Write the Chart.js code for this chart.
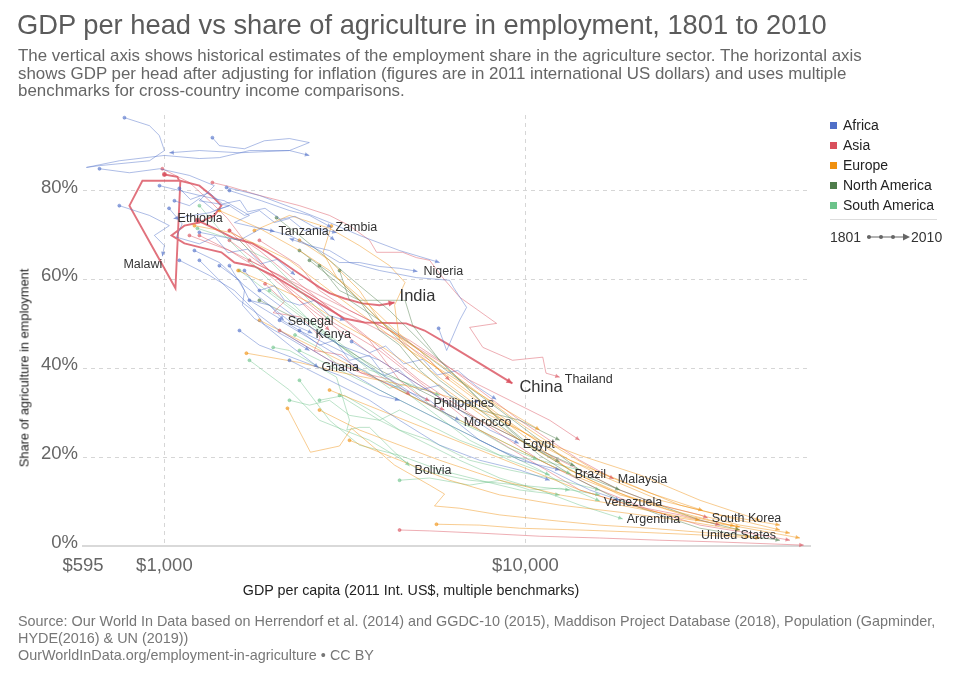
<!DOCTYPE html>
<html><head><meta charset="utf-8">
<script src="https://cdn.jsdelivr.net/npm/chart.js@4.4.1/dist/chart.umd.min.js"></script>
<style>
html,body{margin:0;padding:0;background:#fff;}
#wrap{position:relative;width:960px;height:678px;overflow:hidden;font-family:"Liberation Sans",Arial,sans-serif;}
#c{position:absolute;left:0;top:0;}
.t{position:absolute;white-space:nowrap;}
#title{left:17px;top:9px;font-size:27.3px;color:#5b5b5b;}
#sub{left:18px;top:47px;font-size:16.9px;color:#666;line-height:17.5px;}
#ytitle{left:24px;top:368px;font-size:12.8px;color:#222;transform:translate(-50%,-50%) rotate(-90deg);transform-origin:center;}
#xtitle{left:411px;top:590px;font-size:14.3px;color:#222;transform:translate(-50%,-50%);}
#foot{left:18px;top:613px;font-size:14.4px;color:#777;line-height:17px;}
.lg{position:absolute;left:830px;font-size:14px;color:#222;white-space:nowrap;}
.lg i{display:inline-block;width:7px;height:7px;margin-right:6px;vertical-align:1px;}
#sep{position:absolute;left:830px;top:219px;width:107px;height:1px;background:#ddd;}
#tl{position:absolute;left:830px;top:229px;font-size:14px;color:#333;white-space:nowrap;}
</style></head>
<body><div id="wrap">
<canvas id="c" width="960" height="678"></canvas>
<div class="t" id="title">GDP per head vs share of agriculture in employment, 1801 to 2010</div>
<div class="t" id="sub">The vertical axis shows historical estimates of the employment share in the agriculture sector. The horizontal axis<br>shows GDP per head after adjusting for inflation (figures are in 2011 international US dollars) and uses multiple<br>benchmarks for cross-country income comparisons.</div>
<div class="t" id="ytitle">Share of agriculture in employment</div>
<div class="t" id="xtitle">GDP per capita (2011 Int. US$, multiple benchmarks)</div>
<div class="t" id="foot">Source: Our World In Data based on Herrendorf et al. (2014) and GGDC-10 (2015), Maddison Project Database (2018), Population (Gapminder,<br>HYDE(2016) &amp; UN (2019))<br>OurWorldInData.org/employment-in-agriculture • CC BY</div>
<div id="legend"></div>
<div id="sep"></div>
<div id="tl">1801 <svg width="46" height="10" style="vertical-align:0px"><line x1="2" y1="5" x2="40" y2="5" stroke="#666" stroke-width="1"/><circle cx="4" cy="5" r="2" fill="#666"/><circle cx="16" cy="5" r="2" fill="#666"/><circle cx="28" cy="5" r="2" fill="#666"/><polygon points="38,1.5 45,5 38,8.5" fill="#666"/></svg>2010</div>
</div>
<script>
// ---------- DATA: [GDP per capita (2011 int. $), agriculture share of employment (%)] ----------
const REGIONS = ['Africa','Asia','Europe','North America','South America'];
const X_TICKS = [595, 1000, 10000];
const Y_TICKS = [0, 20, 40, 60, 80];

// Africa
const AF1 = [[775,96.4],[909,94.6],[968,92.4],[1000,89.0],[909,86.7],[661,85.6],[608,85.2],[750,86.7],[1000,87.9],[1250,87.2],[1420,87.4],[1720,89.0],[2220,89.0],[2520,87.9]];
const AF2 = [[1358,91.9],[1420,90.1],[1666,89.4],[1892,91.2],[2220,91.7],[2520,90.8],[2220,89.0],[1614,88.5],[1250,89.0],[1032,88.5]];
const ETHIOPIA = [[661,84.9],[800,84.0],[969,84.9],[1173,83.4],[1375,81.1],[1250,77.7],[1514,76.6],[1332,75.0],[1060,73.7]];
const TANZANIA = [[969,81.1],[1250,78.9],[1466,77.7],[1720,74.4],[1563,72.8],[1833,71.5],[2019,70.8]];
const ZAMBIA = [[1514,80.0],[1857,77.7],[2220,75.5],[2522,74.4],[2903,71.7]];
const NIGERIA = [[1250,70.6],[1614,68.8],[1857,71.5],[2220,69.9],[2688,66.5],[3055,63.8],[3470,63.8],[3943,62.9],[4480,62.5],[5025,61.8]];
const MALAWI = [[750,76.6],[909,74.4],[1032,72.1],[938,69.9],[1000,67.6],[987,65.2]];
const SENEGAL = [[1420,63.1],[1614,59.8],[1720,55.3],[1954,54.2],[2141,50.8]];
const KENYA = [[1211,66.5],[1420,63.8],[1666,58.6],[1954,54.2],[2292,49.7],[2570,47.9]];
const GHANA = [[1100,64.3],[1332,60.9],[1563,57.5],[1775,53.0],[1892,49.7],[2220,45.2],[2670,40.2]];
const EGYPT = [[1833,57.5],[2366,50.8],[3055,45.2],[3943,41.8],[5090,36.2],[6572,30.6],[7960,26.1],[9585,23.1]];
const MOROCCO = [[1720,55.3],[2366,48.5],[3256,42.9],[4480,36.2],[5426,31.7],[6572,28.3]];
const AF13 = [[2084,50.8],[2866,44.0],[3943,37.3],[5426,32.8],[7467,23.8],[9640,19.3],[12446,17.1]];
const AF14 = [[5748,49.0],[6050,44.0],[6572,50.8],[6870,53.7],[6320,58.2],[6165,59.8],[4990,60.4],[3943,62.0],[3256,63.8],[2866,66.5],[2522,67.6],[2220,69.2]];
const AF15 = [[2220,41.8],[2866,37.3],[3700,32.8],[4480,28.3],[5784,22.7],[7467,19.3],[9640,17.1],[11676,14.8]];
const AF16 = [[1614,48.5],[1833,45.2],[2366,41.8],[3055,38.4],[3943,33.9],[4480,32.8]];
const AF17 = [[1250,64.3],[1614,55.3],[2084,48.5],[2866,41.8],[3943,35.1],[5784,28.3],[8485,21.6],[11676,17.1],[15073,12.6],[18255,10.3]];
const AF18 = [[1486,80.7],[1833,78.9],[2366,75.5],[2866,72.8],[3470,69.9],[4480,66.5],[5784,63.8]];
const AF19 = [[1514,63.1],[1666,57.5],[1645,54.2],[1775,51.2],[2019,48.5],[2220,46.7],[2522,44.0]];
const AF20 = [[1100,80.5],[1180,78.0],[1330,79.5],[1450,77.0],[1620,77.8],[1700,75.2],[1900,76.0],[2100,73.5],[2300,74.2],[2600,71.8],[3000,70.5]];
const AF21 = [[1030,76.0],[1120,72.5],[1080,69.5],[1250,68.0],[1380,69.6],[1500,66.0],[1700,66.8],[1850,63.5],[2050,64.5],[2300,61.0]];
const AF22 = [[3300,46.0],[3700,43.5],[4100,45.0],[4600,41.0],[5200,42.0],[5700,38.5],[6500,39.5],[7300,36.0],[8300,33.0]];
const AF23 = [[1066,77.7],[1173,76.6],[1250,78.2],[1375,75.5],[1514,76.6],[1666,74.4],[1833,75.5],[2019,72.8],[2220,73.7],[2444,71.0],[2688,71.5],[2960,68.8]];
const AF24 = [[2366,48.5],[2688,45.2],[2960,46.3],[3256,41.8],[3700,42.9],[4070,38.4],[4480,39.6],[5090,35.1],[5784,36.2],[6572,31.7],[7467,32.8]];
const AF25 = [[1666,62.0],[1833,57.5],[2019,58.6],[2150,55.3],[2366,54.2],[2605,55.3],[2866,51.9],[3155,50.8]];

// Asia
const CHINA = [[1000,83.6],[1086,83.1],[1100,82.2],[869,82.2],[800,76.6],[1073,58.0],[1107,82.2],[1250,81.1],[1349,78.9],[1438,76.6],[1375,74.4],[1250,72.8],[1136,72.1],[1046,69.9],[1136,68.1],[1290,67.0],[1438,66.1],[1563,63.8],[1775,62.9],[2019,60.7],[2292,58.0],[2688,54.6],[3155,51.2],[3584,50.3],[4670,50.1],[5255,48.5],[6050,45.6],[7467,41.1],[9205,36.6]];
const INDIA = [[1234,73.3],[1375,71.5],[1563,69.2],[1753,68.1],[1930,66.1],[2084,64.3],[2292,62.0],[2474,60.2],[2688,58.2],[2866,56.9],[3155,55.7],[3531,54.6],[3943,54.2],[4340,54.8]];
const THAILAND = [[1358,81.8],[1514,80.9],[1833,78.9],[2366,76.6],[2866,74.4],[3256,72.1],[3700,68.8],[3870,66.1],[4570,66.1],[4990,64.9],[5426,64.3],[5900,60.4],[6572,56.0],[8320,50.1],[7005,49.2],[7620,44.7],[9205,41.8],[11170,42.5],[11400,38.9],[12446,38.0]];
const PHILIPPINES = [[1514,71.0],[1833,66.5],[2220,60.9],[2688,55.3],[3155,50.8],[3700,46.3],[4480,37.3],[4925,34.6],[5426,32.6]];
const MALAYSIA = [[1720,64.3],[2220,59.8],[2866,55.3],[3700,50.8],[4776,46.3],[5784,41.8],[7467,35.1],[9640,28.3],[11676,23.8],[14141,19.3],[17570,15.1]];
const SOUTH_KOREA = [[1173,69.9],[1514,66.5],[1954,60.9],[2366,55.3],[3055,48.5],[3943,41.8],[5090,36.2],[6572,30.6],[8485,26.1],[10954,21.6],[14141,17.1],[18255,12.6],[23567,9.2],[30424,7.0],[32000,6.3]];
const AS7 = [[1514,68.8],[1954,62.0],[2688,55.3],[3470,48.5],[5090,37.3],[7467,28.3],[10954,19.3],[16067,12.6],[22109,8.1],[30424,4.7],[44626,2.5],[54048,1.3]];
const AS8 = [[1833,68.8],[2366,63.1],[2688,57.5],[3256,53.0],[4203,48.5],[5426,42.9],[7005,37.3],[9044,32.8],[11676,28.3],[14141,23.8]];
const AS9 = [[1250,69.9],[1614,65.4],[2084,60.9],[2688,55.3],[3470,50.8],[4480,46.3],[5426,41.8],[6165,37.3]];
const AS10 = [[4480,3.6],[5426,3.4],[7467,2.9],[10954,2.2],[16067,1.8],[23567,1.3],[34568,0.9],[59000,0.2]];
const AS11 = [[2084,48.5],[2866,41.8],[3943,37.3],[5090,32.8],[5970,30.6]];
const AS12 = [[1514,71.0],[2084,59.8],[2866,50.8],[3943,44.0],[5426,35.1],[7467,26.1],[10276,19.3],[14141,12.6],[19459,9.2],[26776,7.0],[34568,4.7]];
const AS14 = [[987,84.9],[1173,81.8],[1358,77.1],[1496,73.7],[1687,68.1],[1892,63.1],[2220,57.5],[2522,53.0],[2866,48.5]];
const AS15 = [[1900,59.0],[2150,55.0],[2000,52.5],[2400,51.5],[2700,47.0],[2600,44.0],[3100,43.0],[3500,39.0],[4200,37.5],[4800,34.0]];

// Europe
const EU1 = [[1775,71.0],[2220,74.4],[2866,71.5],[3470,67.6],[4203,63.1],[4640,59.3],[4340,54.2],[4480,46.3],[5426,39.6],[7005,32.8],[9640,26.1],[13266,19.3],[18255,14.8],[26776,9.2],[39276,5.8],[50705,3.6]];
const EU2 = [[1687,43.4],[2366,41.3],[3055,39.1],[3943,37.3],[5090,35.5],[6572,32.8],[8485,28.3],[10954,23.8],[14141,20.4],[20742,16.0],[30424,10.3],[44626,5.8]];
const EU3 = [[2192,31.0],[2538,21.1],[3055,22.5],[3298,26.5],[4340,18.2],[5426,13.7],[5970,11.7],[5600,9.0],[6572,8.5],[8485,7.0],[11676,5.8],[16067,4.7],[22109,4.0],[30424,3.1],[41866,2.2]];
const EU4 = [[1420,75.5],[1833,71.5],[2366,66.5],[2866,62.0],[3470,55.3],[4203,48.5],[5090,44.0],[6165,37.3],[7960,30.6],[10276,23.8],[13266,17.1],[18255,11.5],[26776,8.1],[39276,4.7],[54048,2.9]];
const EU5 = [[2366,68.8],[2866,64.3],[3470,57.5],[3943,50.8],[5090,42.9],[6572,36.2],[8485,29.4],[11676,21.6],[16067,16.0],[23567,10.3],[34568,7.0],[50705,4.7]];
const EU6 = [[2866,35.1],[3943,30.6],[5426,26.1],[7467,21.6],[10276,17.1],[14141,12.6],[19459,9.2],[26776,6.3],[39276,4.3]];
const EU7 = [[5670,4.9],[7467,4.7],[9640,4.0],[14141,3.6],[20742,3.1],[30424,2.5],[44626,1.8]];
const EU8 = [[1833,50.8],[2522,45.2],[3470,39.6],[4776,33.9],[6572,28.3],[9044,22.7],[12446,17.1],[17126,12.6],[25121,8.1],[36847,4.7],[57612,1.8]];
const EU9 = [[3256,23.8],[4480,19.3],[6165,14.8],[8485,11.5],[12446,9.2],[18255,7.6],[26776,5.8],[39276,3.6]];
const EU10 = [[1211,72.1],[1514,70.6],[1833,67.6],[2220,64.3],[2866,57.5],[3700,50.8],[4776,44.0],[6165,38.4],[7960,32.8],[10954,26.1]];
const EU12 = [[2688,30.6],[3470,26.1],[4480,22.7],[5784,19.3],[8485,14.8],[12446,11.5],[18255,9.2],[30424,5.8]];
const EU13 = [[1600,62.0],[2000,58.5],[2500,55.0],[3100,50.0],[3900,45.5],[4900,40.0],[6200,34.5],[8000,28.0],[10500,22.0],[14500,15.5],[20000,10.5],[28000,6.8],[38000,4.5]];
const EU14 = [[2900,72.0],[2750,66.0],[3000,60.5],[3600,55.0],[4300,49.0],[5000,44.5],[6000,40.0],[7400,34.5],[9500,28.0],[12000,22.5],[16000,16.5],[22000,12.0],[31000,8.0]];

// North America
const UNITED_STATES = [[2045,73.9],[2366,69.9],[2866,64.3],[3470,58.6],[4203,53.0],[5090,46.3],[6165,39.6],[7467,32.8],[9044,26.1],[10954,20.4],[14141,14.8],[18255,10.3],[23567,7.0],[30424,4.0],[39276,2.5],[50705,1.3]];
const NA2 = [[2366,66.5],[3055,59.8],[3943,50.8],[5090,44.0],[6572,37.3],[8485,30.6],[10954,23.8],[14141,17.1],[18255,12.6],[23567,9.2],[30424,5.8],[39276,3.6]];
const NA3 = [[1833,55.3],[2366,50.8],[3055,45.2],[3943,39.6],[5090,35.1],[6572,30.6],[8485,26.1],[10954,21.6],[13700,18.0]];
const NA4 = [[3055,62.0],[3256,55.3],[3943,50.8],[4480,46.3],[5090,41.8],[5784,37.3],[7467,30.6],[9640,23.8],[12446,18.9]];
const NA5 = [[2522,64.3],[3470,55.3],[4640,55.3],[4870,49.7],[5784,41.8],[7005,35.1],[8485,28.3],[10276,22.7],[13266,17.1],[18255,12.6]];
const NA6 = [[2688,63.1],[3055,57.5],[3470,55.3],[3943,48.5],[4480,45.2],[5090,39.6],[6165,33.9],[7467,30.6],[9640,28.3],[12446,23.8]];

// South America
const BOLIVIA = [[2001,44.7],[2220,44.0],[2997,38.0],[3256,28.3],[3200,26.1],[3470,26.7],[3700,26.7],[4280,21.6],[4776,18.0]];
const BRAZIL = [[1614,62.0],[2084,55.3],[2688,48.5],[3470,41.8],[4480,35.1],[5784,30.6],[7467,26.1],[9640,21.6],[11676,18.2],[13350,16.2]];
const VENEZUELA = [[2366,44.0],[3055,39.6],[3943,35.1],[5090,30.6],[6572,26.1],[8485,21.6],[10954,17.1],[13266,13.0],[16067,10.1]];
const ARGENTINA = [[3055,33.9],[3943,28.3],[5090,23.8],[6572,19.3],[8485,15.3],[10954,12.6],[14141,9.2],[18600,6.1]];
const SA5 = [[2366,37.3],[2866,28.3],[3470,22.7],[4480,20.4],[5784,17.1],[7467,14.8],[9640,12.6],[12446,11.5]];
const SA6 = [[1720,41.8],[2220,35.1],[2688,28.3],[3700,23.8],[5090,17.1],[7005,14.8],[9640,13.7],[13266,12.6]];
const SA7 = [[1250,76.6],[1466,69.9],[1720,64.3],[2084,57.5],[2522,50.8],[3055,45.2],[3700,39.6],[4480,37.3],[5784,33.9]];
const SA8 = [[1954,57.5],[2522,50.8],[3256,44.0],[4203,37.3],[5426,30.6],[7005,23.8],[9044,19.3],[11676,16.0]];
const SA9 = [[1234,71.5],[1420,69.9],[1614,68.8],[1720,66.5],[1954,64.3],[2366,57.5],[2866,50.8]];
const SA10 = [[2688,32.8],[3155,33.9],[3700,30.6],[4480,26.1],[5426,23.8],[7005,19.3],[9044,17.1],[12446,14.8],[16067,12.6]];
const SA11 = [[2300,47.5],[2700,44.5],[3000,41.0],[3600,39.5],[4200,35.5],[4700,36.5],[5400,32.0],[6300,28.5],[7600,25.5],[9000,22.0],[10800,19.5]];
const SA12 = [[2220,32.8],[2522,31.7],[2866,32.8],[3256,29.4],[3943,28.3],[4480,30.6],[5426,27.2],[6572,23.8],[8485,20.4],[10954,19.3],[14141,17.1]];
const SA13 = [[4480,14.8],[5426,15.3],[7005,13.7],[8485,14.8],[10276,12.6],[12446,13.0],[16067,11.5]];

// series list: [region, data, label]
const SERIES = [
  ['Africa',AF1,null],['Africa',AF2,null],['Africa',ETHIOPIA,'Ethiopia'],['Africa',TANZANIA,'Tanzania'],
  ['Africa',ZAMBIA,'Zambia'],['Africa',NIGERIA,'Nigeria'],['Africa',MALAWI,'Malawi'],['Africa',SENEGAL,'Senegal'],
  ['Africa',KENYA,'Kenya'],['Africa',GHANA,'Ghana'],['Africa',EGYPT,'Egypt'],['Africa',MOROCCO,'Morocco'],
  ['Africa',AF13,null],['Africa',AF14,null],['Africa',AF15,null],['Africa',AF16,null],['Africa',AF17,null],
  ['Africa',AF18,null],['Africa',AF19,null],['Africa',AF20,null],['Africa',AF21,null],['Africa',AF22,null],
  ['Africa',AF23,null],['Africa',AF24,null],['Africa',AF25,null],
  ['Europe',EU1,null],['Europe',EU2,null],['Europe',EU3,null],['Europe',EU4,null],['Europe',EU5,null],
  ['Europe',EU6,null],['Europe',EU7,null],['Europe',EU8,null],['Europe',EU9,null],['Europe',EU10,null],
  ['Europe',EU12,null],['Europe',EU13,null],['Europe',EU14,null],
  ['North America',UNITED_STATES,'United States'],['North America',NA2,null],['North America',NA3,null],
  ['North America',NA4,null],['North America',NA5,null],['North America',NA6,null],
  ['South America',BOLIVIA,'Bolivia'],['South America',BRAZIL,'Brazil'],['South America',VENEZUELA,'Venezuela'],
  ['South America',ARGENTINA,'Argentina'],['South America',SA5,null],['South America',SA6,null],
  ['South America',SA7,null],['South America',SA8,null],['South America',SA9,null],['South America',SA10,null],
  ['South America',SA11,null],['South America',SA12,null],['South America',SA13,null],
  ['Asia',THAILAND,'Thailand'],['Asia',PHILIPPINES,'Philippines'],['Asia',MALAYSIA,'Malaysia'],
  ['Asia',SOUTH_KOREA,'South Korea'],['Asia',AS7,null],['Asia',AS8,null],['Asia',AS9,null],['Asia',AS10,null],
  ['Asia',AS11,null],['Asia',AS12,null],['Asia',AS14,null],['Asia',AS15,null],
  ['Asia',INDIA,'India'],['Asia',CHINA,'China']
];

// ---------- STYLE ----------
const COLORS = {'Africa':'79,111,200','Asia':'217,79,92','Europe':'240,144,15','North America':'78,124,75','South America':'108,195,138'};
const HIGHLIGHT = ['India','China'];
const LABEL_STYLE = {
  'Ethiopia':{dx:4,dy:0},'Tanzania':{dx:4,dy:0},'Zambia':{dx:4,dy:0},'Malawi':{dx:0,dy:8,align:'right'},
  'Nigeria':{dx:6,dy:0},'India':{dx:5,dy:-6,big:true},'Senegal':{dx:4,dy:1},'Kenya':{dx:3,dy:1},
  'Ghana':{dx:3,dy:0},'China':{dx:7,dy:4,big:true},'Thailand':{dx:5,dy:2},'Philippines':{dx:4,dy:2},
  'Morocco':{dx:4,dy:2},'Egypt':{dx:4,dy:1},'Bolivia':{dx:5,dy:5},'Brazil':{dx:4,dy:1},'Malaysia':{dx:4,dy:1},
  'Venezuela':{dx:4,dy:1},'Argentina':{dx:4,dy:1},'South Korea':{dx:4,dy:1},'United States':{dx:-4,dy:-5,align:'right'}
};
const FONT = '"Liberation Sans", Arial, sans-serif';

// legend
const lg = document.getElementById('legend');
REGIONS.forEach((r,i)=>{
  const d = document.createElement('div'); d.className='lg'; d.style.top=(117+i*20)+'px';
  d.innerHTML = '<i style="background:rgb('+COLORS[r]+')"></i>'+r; lg.appendChild(d);
});

const datasets = SERIES.map(([reg,arr,label])=>{
  const hi = HIGHLIGHT.includes(label);
  const col = 'rgba('+COLORS[reg]+','+(hi?0.8:0.58)+')';
  return {
    label: label||'', region: reg, country: label,
    data: arr.map(p=>({x:p[0],y:p[1]})),
    showLine:true, borderColor:col, backgroundColor:col, borderWidth: hi?1.9:0.8,
    pointRadius: c=>c.dataIndex===0?1.5:0, pointHoverRadius:0, tension:0
  };
});

const arrowPlugin = {
  id:'arrows',
  afterDatasetsDraw(chart){
    const ctx = chart.ctx;
    chart.data.datasets.forEach((ds,i)=>{
      const pts = chart.getDatasetMeta(i).data; if(pts.length<2) return;
      const a = pts[pts.length-2], b = pts[pts.length-1];
      const ang = Math.atan2(b.y-a.y,b.x-a.x);
      const hi = ds.borderWidth>1.5, L = hi?6:4.5, W = hi?3:2.2;
      ctx.save(); ctx.fillStyle = ds.borderColor; ctx.translate(b.x,b.y); ctx.rotate(ang);
      ctx.beginPath(); ctx.moveTo(0,0); ctx.lineTo(-L,-W); ctx.lineTo(-L,W); ctx.closePath(); ctx.fill(); ctx.restore();
    });
  }
};
const labelPlugin = {
  id:'countryLabels',
  afterDatasetsDraw(chart){
    const ctx = chart.ctx;
    chart.data.datasets.forEach((ds,i)=>{
      if(!ds.country) return;
      const st = LABEL_STYLE[ds.country]||{dx:4,dy:0};
      const pts = chart.getDatasetMeta(i).data; const p = pts[pts.length-1];
      ctx.save();
      ctx.font = (st.big?'16.5px ':'12.5px ')+FONT;
      ctx.fillStyle = '#333'; ctx.textBaseline='middle'; ctx.textAlign = st.align||'left';
      ctx.fillText(ds.country, p.x+st.dx, p.y+st.dy);
      ctx.restore();
    });
  }
};

new Chart(document.getElementById('c'), {
  type:'scatter',
  data:{datasets},
  options:{
    responsive:false, animation:false, devicePixelRatio:1,
    layout:{padding:{left:0,top:115,right:150,bottom:0}},
    plugins:{legend:{display:false},title:{display:false},tooltip:{enabled:false}},
    events:[],
    scales:{
      x:{type:'logarithmic', min:595, max:61400,
        afterBuildTicks:s=>{s.ticks = X_TICKS.map(v=>({value:v}));},
        afterFit:s=>{s.height = 132;},
        ticks:{autoSkip:false,maxRotation:0,padding:9,color:'#666',font:{size:18.5,family:FONT},
          callback:v=>'$'+Number(v).toLocaleString('en-US')},
        grid:{color:c=>c.tick&&c.tick.value===595?'rgba(0,0,0,0)':'#d6d6d6', lineWidth:1, drawTicks:false},
        border:{display:true,color:'#d9d9d9',width:2,dash:[4,4]}
      },
      y:{type:'linear', min:0, max:97,
        afterBuildTicks:s=>{s.ticks = Y_TICKS.map(v=>({value:v}));},
        afterFit:s=>{s.width = 83;},
        ticks:{padding:5,labelOffset:-3,color:'#666',font:{size:18.5,family:FONT},callback:v=>v+'%'},
        grid:{color:c=>c.tick&&c.tick.value===0?'rgba(0,0,0,0)':'#d6d6d6', lineWidth:1, drawTicks:false},
        border:{display:false,dash:[4,4]}
      }
    }
  },
  plugins:[arrowPlugin,labelPlugin]
});
</script>
</body></html>
